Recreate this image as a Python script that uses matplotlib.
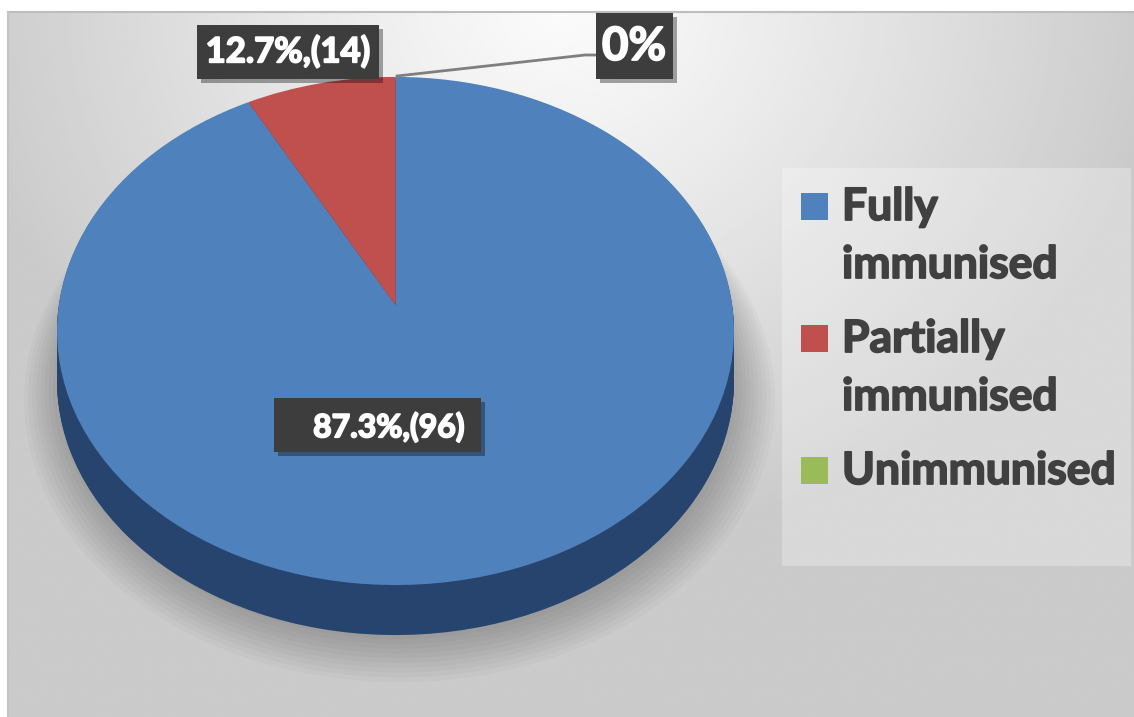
import numpy as np
import matplotlib.pyplot as plt
import matplotlib.patheffects as pe
from matplotlib.transforms import Transform, Affine2D
from matplotlib.patches import Rectangle, Circle, Wedge

# data
categories = ["Fully\nimmunised", "Partially\nimmunised", "Unimmunised"]
counts = [96, 14, 0]
value_labels = ["87.3%,(96)", "12.7%,(14)", "0%"]
# slice sizes as they are drawn in the picture (red slice drawn at ~8 %)
drawn_share = [92.1, 7.9, 0.0]

top_colors = ["#4f81bd", "#c0504d", "#9bbb59"]
side_colors = ["#26446e", "#6e2b29", "#5a6e34"]
text_color = "#404040"
box_color = "#3d3d3d"

W, H = 1134, 717
plt.rcParams["font.family"] = ["Lato", "DejaVu Sans"]


class Tilt(Transform):
    """Perspective view of the unit disc lying flat, seen from above."""
    input_dims = output_dims = 2
    is_separable = False
    has_inverse = False

    def __init__(self, cx, cy, sx, sy, dist, cos_e):
        super().__init__()
        self.cx, self.cy, self.sx, self.sy = cx, cy, sx, sy
        self.dist, self.cos_e = dist, cos_e

    def transform_non_affine(self, values):
        v = np.asarray(values, dtype=float)
        k = self.dist / (self.dist + v[:, 1] * self.cos_e)
        return np.column_stack([self.cx + self.sx * v[:, 0] * k,
                                self.cy - self.sy * v[:, 1] * k])


fig = plt.figure(figsize=(W / 100, H / 100), dpi=100)
fig.patch.set_facecolor("white")
ax = fig.add_axes([0, 0, 1, 1])

# background gradient of the chart area
gx, gy = np.meshgrid(np.linspace(8, W, 400), np.linspace(12, H, 260))
dist = np.hypot(gx - 560, (gy - 0) * 1.1)
shade = 0.985 - 0.19 * np.clip(dist / 600, 0, 1) ** 1.1
ax.imshow(shade, cmap="gray", vmin=0, vmax=1, extent=(8, W, H, 12),
          interpolation="bilinear", zorder=0, aspect="auto")
ax.plot([8, W], [12, 12], color="#bdbdbd", lw=1.5, zorder=1)
ax.plot([8, 8], [12, H], color="#c4c4c4", lw=1.5, zorder=1)

# pie top face
wedges, _ = ax.pie(drawn_share, colors=top_colors, startangle=90,
                   counterclock=False, wedgeprops=dict(linewidth=0))
tilt = Tilt(395.5, 305, 336.7, 251.4, 6.53, 0.668)
depth = 50
for w in wedges:
    w.set_transform(tilt + ax.transData)
    w.set_zorder(5)

# soft shadow under the pie
for i in range(10):
    c = Circle((0, 0), 1.0 + 0.012 * i, color="black", alpha=0.025, lw=0,
               zorder=2)
    c.set_transform(tilt + Affine2D().translate(4, depth + 4 + i) + ax.transData)
    ax.add_patch(c)

# side wall made of stacked copies of the slices
for off in np.linspace(depth, 1, 40):
    for w, sc in zip(wedges, side_colors):
        s = Wedge((0, 0), w.r, w.theta1, w.theta2, color=sc, lw=0, zorder=3)
        s.set_transform(tilt + Affine2D().translate(0, off) + ax.transData)
        ax.add_patch(s)

# data labels
shadow = [pe.SimplePatchShadow(offset=(3, -3), shadow_rgbFace="black",
                               alpha=0.35), pe.Normal()]
heavy_white = [pe.withStroke(linewidth=1.3, foreground="white")]
heavy_grey = [pe.withStroke(linewidth=1.3, foreground=text_color)]
label_boxes = [(274, 398, 207, 54), (197, 25, 182, 54), (596, 13, 77, 66)]
label_text_pos = [(389, 427), (288, 52), (634, 47)]
label_sizes = [23, 25, 33]
ax.plot([397, 585, 596], [76, 55, 55], color="#7f7f7f", lw=2, zorder=6)
for lab, (bx, by, bw, bh), (tx, ty), fs in zip(value_labels, label_boxes,
                                               label_text_pos, label_sizes):
    r = Rectangle((bx, by), bw, bh, fc=box_color, ec="none", zorder=7)
    r.set_path_effects(shadow)
    ax.add_patch(r)
    ax.text(tx, ty, lab, color="white", fontsize=fs, fontweight="bold",
            ha="center", va="center", zorder=8, path_effects=heavy_white)

# legend
ax.add_patch(Rectangle((782, 168), 349, 398, fc="white", ec="none",
                       alpha=0.28, zorder=2))
entry_tops = [193, 325, 457]
for cat, col, top in zip(categories, top_colors, entry_tops):
    ax.add_patch(Rectangle((801, top), 27, 27, fc=col, ec="none", zorder=6))
    for j, line in enumerate(cat.split("\n")):
        ax.text(842, top + 27 + 58 * j, line, color=text_color, fontsize=32,
                fontweight="bold", ha="left", va="baseline", zorder=6,
                path_effects=heavy_grey)

ax.set_aspect("auto")
ax.set_xlim(0, W)
ax.set_ylim(H, 0)
ax.axis("off")

fig.savefig("out.png", dpi=100)
